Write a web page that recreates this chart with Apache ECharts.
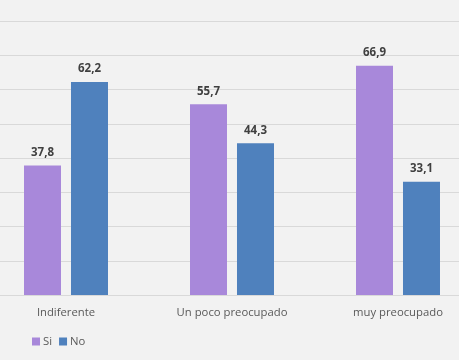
<!DOCTYPE html>
<html><head><meta charset="utf-8">
<script src="https://cdn.jsdelivr.net/npm/echarts@6/dist/echarts.min.js"></script>
<style>html,body{margin:0;padding:0;background:#F2F2F2;overflow:hidden;width:459px;height:360px;}#c{position:absolute;left:-17px;top:0;width:498px;height:360px;}</style>
</head><body><div id="c"></div>
<script>
const categories = ['Indiferente', 'Un poco preocupado', 'muy preocupado'];
const siValues = [37.8, 55.7, 66.9];
const noValues = [62.2, 44.3, 33.1];
const seriesNames = ['Si', 'No'];

const chart = echarts.init(document.getElementById('c'));
const fmt = p => String(p.value.toFixed(1)).replace('.', ',');
const labelStyle = {show: true, position: 'top', distance: 7, formatter: fmt, fontFamily: 'Open Sans', fontWeight: 'bold', fontSize: 11.5, color: '#404040'};
chart.setOption({
  backgroundColor: '#F2F2F2',
  animation: false,
  grid: {left: 0, right: 0, top: 21, bottom: 65, containLabel: false},
  legend: {left: 44, top: 331, itemWidth: 8, itemHeight: 8, itemGap: 7, icon: 'rect',
    textStyle: {fontFamily: 'Open Sans', fontSize: 11.3, color: '#595959', padding: [0,0,0,-2]},
    data: seriesNames},
  xAxis: {type: 'category', data: categories, axisTick: {show: false},
    axisLine: {lineStyle: {color: '#D9D9D9'}},
    axisLabel: {interval: 0, fontFamily: 'Open Sans', fontSize: 11.3, color: '#595959', margin: 12}},
  yAxis: {type: 'value', min: 0, max: 80, interval: 10, axisLabel: {show: false},
    axisLine: {show: false}, axisTick: {show: false},
    splitLine: {lineStyle: {color: '#D9D9D9', width: 1}}},
  series: [
    {name: seriesNames[0], type: 'bar', data: siValues, barWidth: 37, barGap: '27%', itemStyle: {color: '#A888DA'}, label: labelStyle},
    {name: seriesNames[1], type: 'bar', data: noValues, barWidth: 37, itemStyle: {color: '#4F81BD'}, label: labelStyle}
  ]
});
</script></body></html>
